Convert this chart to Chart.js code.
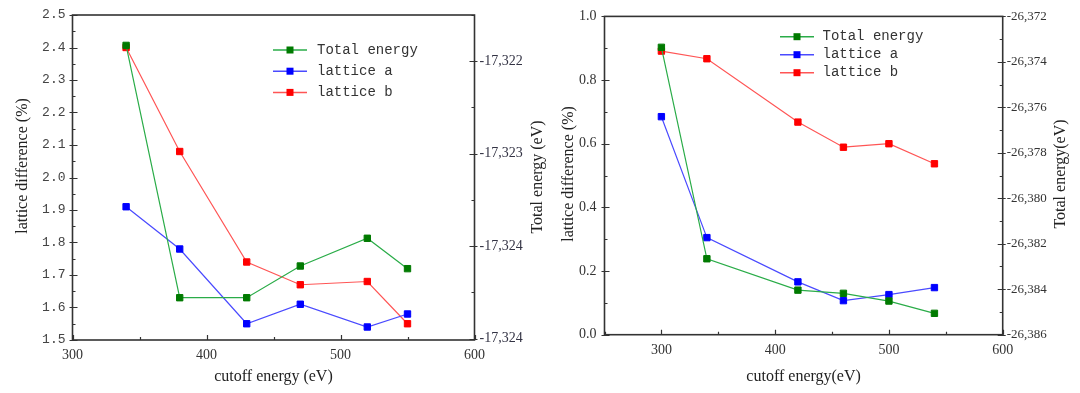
<!DOCTYPE html>
<html lang="en">
<head>
<meta charset="UTF-8">
<title>Cutoff energy convergence</title>
<script src="https://cdn.jsdelivr.net/npm/chart.js"></script>
<style>
    body {
        margin: 0;
        background: #fff;
    }

    #wrap {
        position: relative;
        width: 1080px;
        height: 393px;
        overflow: hidden;
    }

    #left-box {
        position: absolute;
        left: 0;
        top: 0;
        width: 548px;
        height: 393px;
    }

    #right-box {
        position: absolute;
        left: 548px;
        top: 0;
        width: 532px;
        height: 393px;
    }
</style>
</head>
<body>
<div id="wrap">
    <div id="left-box"><canvas id="left-chart" width="548" height="393"></canvas></div>
    <div id="right-box"><canvas id="right-chart" width="532" height="393"></canvas></div>
</div>

<script>
    // left panel
    const cutoffLeft = [340, 380, 430, 470, 520, 550];
    const totalEnergyLeft = [-17322.08, -17323.99, -17323.99, -17323.75, -17323.54, -17323.77];
    const latticeALeft = [1.91, 1.78, 1.55, 1.61, 1.54, 1.58];
    const latticeBLeft = [2.40, 2.08, 1.74, 1.67, 1.68, 1.55];
    const energyTicksLeft = [-17324.3, -17323.6, -17322.9, -17322.2];

    // right panel
    const cutoffRight = [300, 340, 420, 460, 500, 540];
    const totalEnergyRight = [-26373.36, -26382.66, -26384.04, -26384.18, -26384.52, -26385.06];
    const latticeARight = [0.685, 0.305, 0.166, 0.107, 0.126, 0.148];
    const latticeBRight = [0.891, 0.867, 0.668, 0.589, 0.600, 0.537];

    const seriesNames = ["Total energy", "lattice a", "lattice b"];

    const serif = "\"Liberation Serif\", \"Times New Roman\", serif";
    const mono = "\"Liberation Mono\", \"DejaVu Sans Mono\", monospace";

    function points(xs, ys) {
        return xs.map((x, i) => ({ x: x, y: ys[i] }));
    }

    function makeSeries(name, xs, ys, axis, line, mark) {
        return {
            label: name,
            data: points(xs, ys),
            yAxisID: axis,
            borderColor: line,
            borderWidth: 1.2,
            pointStyle: "rect",
            pointRadius: 4.5,
            pointBackgroundColor: mark,
            pointBorderColor: mark,
            pointBorderWidth: 1,
            tension: 0,
        };
    }

    // inward tick marks + box frame
    const tickMarks = {
        id: "tickMarks",
        afterDatasetsDraw(chart) {
            const ctx = chart.ctx;
            const area = chart.chartArea;
            ctx.save();
            ctx.strokeStyle = "#333";
            ctx.lineWidth = 1.2;
            ctx.beginPath();
            Object.values(chart.scales).forEach(scale => {
                scale.ticks.forEach(tick => {
                    const major = tick.label !== "";
                    const p = Math.round(scale.getPixelForValue(tick.value)) + 0.5;
                    const inner = major ? 5 : 3;
                    const outer = major ? 3 : 0;
                    if (scale.axis === "x") {
                        ctx.moveTo(p, area.bottom);
                        ctx.lineTo(p, area.bottom - inner);
                    } else if (scale.position === "left") {
                        ctx.moveTo(area.left - outer, p);
                        ctx.lineTo(area.left + inner, p);
                    } else {
                        ctx.moveTo(area.right + outer, p);
                        ctx.lineTo(area.right - inner, p);
                    }
                });
            });
            ctx.stroke();
            ctx.lineWidth = 1.6;
            ctx.strokeRect(area.left, area.top, area.right - area.left, area.bottom - area.top);
            ctx.restore();
        }
    };

    // legend drawn inside the plot
    const insideLegend = {
        id: "insideLegend",
        afterDraw(chart, args, opts) {
            const ctx = chart.ctx;
            ctx.save();
            ctx.font = "14px " + mono;
            ctx.textBaseline = "middle";
            chart.data.datasets.forEach((ds, i) => {
                const y = opts.y + i * opts.gap;
                ctx.strokeStyle = ds.borderColor;
                ctx.lineWidth = 1.5;
                ctx.beginPath();
                ctx.moveTo(opts.x, y);
                ctx.lineTo(opts.x + 34, y);
                ctx.stroke();
                ctx.fillStyle = ds.pointBackgroundColor;
                ctx.fillRect(opts.x + 13.5, y - 3.5, 7, 7);
                ctx.fillStyle = "#333";
                ctx.fillText(ds.label, opts.x + opts.textOffset, y);
            });
            ctx.restore();
        }
    };

    // rotated y titles (both sides read bottom to top)
    const sideTitles = {
        id: "sideTitles",
        afterDraw(chart, args, opts) {
            const ctx = chart.ctx;
            ctx.save();
            ctx.font = "16px " + serif;
            ctx.fillStyle = "#222";
            ctx.textAlign = "center";
            ctx.textBaseline = "middle";
            opts.items.forEach(t => {
                ctx.save();
                ctx.translate(t.x, t.y);
                ctx.rotate(-Math.PI / 2);
                ctx.fillText(t.text, 0, 0);
                ctx.restore();
            });
            ctx.restore();
        }
    };

    function xScale(min, max, title, height) {
        return {
            type: "linear",
            min: min,
            max: max,
            grid: { display: false, drawTicks: false },
            border: { display: false },
            ticks: {
                stepSize: 50,
                autoSkip: false,
                maxRotation: 0,
                padding: 7,
                color: "#333",
                font: { family: serif, size: 14 },
                callback: v => (v % 100 === 0 ? String(v) : ""),
            },
            title: {
                display: true,
                text: title,
                color: "#222",
                font: { family: serif, size: 16 },
                padding: { top: 0, bottom: 7 },
            },
            afterFit: s => { s.height = height; },
        };
    }

    // ---- left chart ----
    const leftMinor = energyTicksLeft.map(v => v + (energyTicksLeft[1] - energyTicksLeft[0]) / 2);

    new Chart(document.getElementById("left-chart"), {
        type: "line",
        data: {
            datasets: [
                makeSeries(seriesNames[0], cutoffLeft, totalEnergyLeft, "y1", "#2aac48", "#007a00"),
                makeSeries(seriesNames[1], cutoffLeft, latticeALeft, "y", "#4a4aff", "#0000ff"),
                makeSeries(seriesNames[2], cutoffLeft, latticeBLeft, "y", "#ff5555", "#ff0000"),
            ],
        },
        options: {
            responsive: false,
            animation: false,
            devicePixelRatio: 1,
            layout: { padding: { top: 15, left: 0, right: 0, bottom: 0 } },
            plugins: {
                legend: { display: false },
                tooltip: { enabled: false },
                insideLegend: { x: 273, y: 50, gap: 21.2, textOffset: 44 },
                sideTitles: {
                    items: [
                        { text: "lattice difference (%)", x: 23, y: 166 },
                        { text: "Total energy (eV)", x: 537.5, y: 177 },
                    ],
                },
            },
            scales: {
                x: xScale(300, 600, "cutoff energy (eV)", 53),
                y: {
                    position: "left",
                    min: 1.5,
                    max: 2.5,
                    grid: { display: false, drawTicks: false },
                    border: { display: false },
                    ticks: {
                        stepSize: 0.05,
                        autoSkip: false,
                        padding: 7,
                        color: "#444",
                        font: { family: mono, size: 13 },
                        callback: v => (Math.round(v * 100) % 10 === 0 ? v.toFixed(1) : ""),
                    },
                    afterFit: s => { s.width = 72.5; },
                },
                y1: {
                    position: "right",
                    min: -17324.31,
                    max: -17321.85,
                    grid: { display: false, drawTicks: false },
                    border: { display: false },
                    afterBuildTicks: s => {
                        s.ticks = energyTicksLeft.concat(leftMinor).map(v => ({ value: v }));
                    },
                    ticks: {
                        autoSkip: false,
                        padding: 5,
                        color: "#334",
                        font: { family: serif, size: 14 },
                        callback: v => (energyTicksLeft.includes(v) ? Math.round(v).toLocaleString("en-US") : ""),
                    },
                    afterFit: s => { s.width = 73.5; },
                },
            },
        },
        plugins: [tickMarks, insideLegend, sideTitles],
    });

    // ---- right chart ----
    new Chart(document.getElementById("right-chart"), {
        type: "line",
        data: {
            datasets: [
                makeSeries(seriesNames[0], cutoffRight, totalEnergyRight, "y1", "#2aac48", "#007a00"),
                makeSeries(seriesNames[1], cutoffRight, latticeARight, "y", "#4a4aff", "#0000ff"),
                makeSeries(seriesNames[2], cutoffRight, latticeBRight, "y", "#ff5555", "#ff0000"),
            ],
        },
        options: {
            responsive: false,
            animation: false,
            devicePixelRatio: 1,
            layout: { padding: { top: 14, left: 0, right: 0, bottom: 0 } },
            plugins: {
                legend: { display: false },
                tooltip: { enabled: false },
                insideLegend: { x: 232, y: 36.7, gap: 18, textOffset: 42.5 },
                sideTitles: {
                    items: [
                        { text: "lattice difference (%)", x: 20.3, y: 174 },
                        { text: "Total energy(eV)", x: 513, y: 174 },
                    ],
                },
            },
            scales: {
                x: xScale(250, 600, "cutoff energy(eV)", 58.3),
                y: {
                    position: "left",
                    min: 0,
                    max: 1,
                    grid: { display: false, drawTicks: false },
                    border: { display: false },
                    ticks: {
                        stepSize: 0.1,
                        autoSkip: false,
                        padding: 8,
                        color: "#333",
                        font: { family: serif, size: 14 },
                        callback: v => (Math.round(v * 10) % 2 === 0 ? v.toFixed(1) : ""),
                    },
                    afterFit: s => { s.width = 56.5; },
                },
                y1: {
                    position: "right",
                    min: -26386,
                    max: -26372,
                    grid: { display: false, drawTicks: false },
                    border: { display: false },
                    ticks: {
                        stepSize: 1,
                        autoSkip: false,
                        padding: 4,
                        color: "#333",
                        font: { family: serif, size: 13 },
                        callback: v => (v % 2 === 0 ? v.toLocaleString("en-US") : ""),
                    },
                    afterFit: s => { s.width = 77.3; },
                },
            },
        },
        plugins: [tickMarks, insideLegend, sideTitles],
    });
</script>
</body>
</html>
